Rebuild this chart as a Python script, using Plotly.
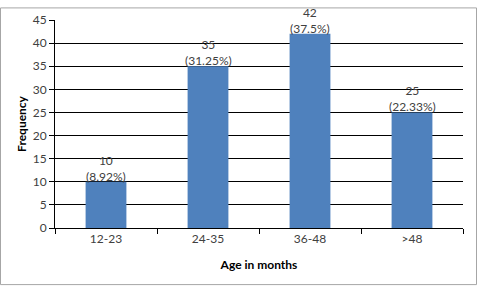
import plotly.graph_objects as go

categories = ["12-23", "24-35", "36-48", ">48"]
frequency = [10, 35, 42, 25]
percent_labels = ["8.92%", "31.25%", "37.5%", "22.33%"]
y_ticks = [0, 5, 10, 15, 20, 25, 30, 35, 40, 45]

W, H = 477, 287
L, R, T, B = 55, 14, 13, 59
pw, ph = W - L - R, H - T - B

fig = go.Figure()
fig.add_trace(go.Bar(
    x=categories, y=frequency, width=0.4,
    marker=dict(color="#4F81BD", line=dict(width=0)),
))

for c, v, p in zip(categories, frequency, percent_labels):
    fig.add_annotation(
        x=c, y=v, text=f"{v}<br>({p})", showarrow=False,
        yanchor="bottom", yshift=-4,
        font=dict(family="Lato, Open Sans, sans-serif", size=12, color="#404040"),
    )

fig.add_shape(
    type="rect", xref="paper", yref="paper",
    x0=(0.5 - L) / pw, x1=(W - 0.5 - L) / pw,
    y0=-(H - 0.5 - (H - B)) / ph, y1=(H - B - 0.5) / ph,
    line=dict(color="#A6A6A6", width=1), layer="below",
)

fig.update_layout(
    width=W, height=H,
    margin=dict(l=L, r=R, t=T, b=B),
    paper_bgcolor="white", plot_bgcolor="white",
    showlegend=False,
    font=dict(family="Lato, Open Sans, sans-serif", size=12, color="#404040"),
    xaxis=dict(
        showline=True, linecolor="#000000", linewidth=1,
        ticks="outside", ticklen=5, tickcolor="#000000",
        tickson="boundaries", showgrid=False,
        title=dict(text="<b>Age in months</b>", font=dict(size=12, color="#000000"), standoff=15),
        tickfont=dict(size=12, color="#404040"),
    ),
    yaxis=dict(
        range=[0, 45], tickvals=y_ticks,
        showline=True, linecolor="#000000", linewidth=1,
        ticks="outside", ticklen=5, tickcolor="#000000",
        showgrid=True, gridcolor="#000000", gridwidth=1,
        zeroline=False,
        title=dict(text="<b>Frequency</b>", font=dict(size=12, color="#000000"), standoff=3),
        tickfont=dict(size=12, color="#404040"),
    ),
)

fig.write_html("out.html")
